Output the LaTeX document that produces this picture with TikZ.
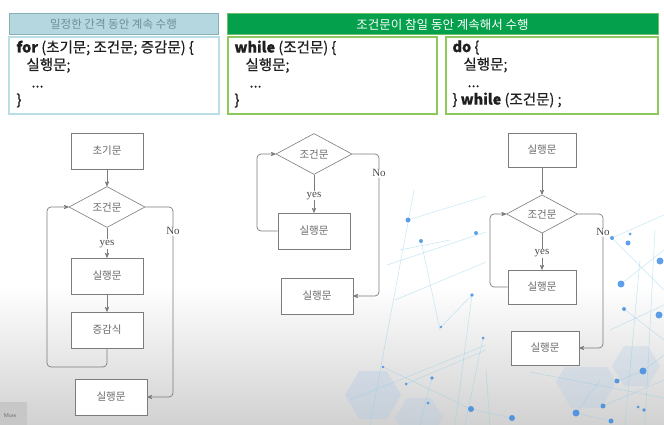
\documentclass[tikz,border=0pt]{standalone}
\usepackage{fontspec}
\setmainfont{Liberation Serif}
\newfontfamily\kr{Noto Sans CJK KR}
\newfontfamily\krcode[FakeBold=0.35]{Noto Sans CJK KR}
\usepackage{tikz}
\usetikzlibrary{shapes,arrows,positioning}

\definecolor{hdrblue}{HTML}{B5D8E0}
\definecolor{hdrblueline}{HTML}{88AEB8}
\definecolor{hdrbluetext}{HTML}{6D8E97}
\definecolor{codeblue}{HTML}{B9DEE8}
\definecolor{hdrgreen}{HTML}{04A04C}
\definecolor{hdrgreenline}{HTML}{6EC06E}
\definecolor{codegreen}{HTML}{8DC85C}
\definecolor{flowline}{HTML}{7C7C7C}
\definecolor{flowtext}{HTML}{6A6A6A}
\definecolor{netblue}{HTML}{8FCDEB}
\definecolor{dotblue}{HTML}{2A80E0}
\definecolor{hexblue}{HTML}{A9C6E6}

\begin{document}
\begin{tikzpicture}[x=1pt,y=-1pt,>=stealth',semithick]
\tikzstyle{header}=[inner sep=0pt,minimum height=21pt,line width=1pt,font=\kr\fontsize{11.5}{13}\selectfont]
\tikzstyle{codebox}=[draw,line width=1.6pt,minimum height=77pt,fill=white]
\tikzstyle{code}=[inner sep=0pt,align=left,anchor=north west,text=black!88,font=\krcode\fontsize{14.5}{17.5}\selectfont]
\tikzstyle{box}=[draw=flowline,fill=white,minimum width=72pt,minimum height=36pt,text=flowtext,font=\kr\fontsize{10.5}{12}\selectfont]
\tikzstyle{smallbox}=[box,minimum width=68pt,minimum height=34pt]
\tikzstyle{cond}=[diamond,draw=flowline,fill=white,inner sep=0pt,minimum width=76pt,minimum height=41pt,text=flowtext,font=\kr\fontsize{10.5}{12}\selectfont]
\tikzstyle{flow}=[->,draw=flowline,line width=0.7pt]
\tikzstyle{lbl}=[fill=white,inner sep=1pt,text=flowtext!70!black,font=\fontsize{11}{12}\selectfont]

\useasboundingbox (0,0) rectangle (664,425);

% background
\shade[top color=white,bottom color=black!18] (0,285) rectangle (664,425);
\fill[hexblue,opacity=0.3] (345,395)--(359,371)--(387,371)--(401,395)--(387,419)--(359,419)--cycle;
\fill[hexblue,opacity=0.25] (395,418)--(407,398)--(431,398)--(443,418)--(431,438)--(407,438)--cycle;
\fill[hexblue,opacity=0.25] (556,382)--(571,356)--(601,356)--(616,382)--(601,408)--(571,408)--cycle;
\fill[hexblue,opacity=0.25] (612,366)--(624,346)--(648,346)--(660,366)--(648,386)--(624,386)--cycle;
\foreach \xa/\ya/\xb/\yb in {370/425/414/190, 387/265/486/232, 408/220/486/196, 421/241/440/330,
    395/300/486/262, 383/367/471/409, 471/409/512/418, 406/384/486/350, 432/378/420/425,
    441/327/472/295, 483/338/465/425, 472/295/455/425, 350/400/486/345, 400/250/450/240,
    612/238/664/215, 612/238/664/290, 621/284/664/250, 624/309/664/340, 610/330/664/305,
    617/381/643/371, 643/371/664/355, 576/413/611/421, 603/406/664/380, 640/260/625/425,
    655/230/645/425, 600/380/576/413, 530/372/664/398, 490/425/486/370}
  \draw[netblue,line width=0.5pt,opacity=0.5] (\xa,\ya) -- (\xb,\yb);
\foreach \x/\y/\r in {408/220/2.5, 421/241/2, 476/233/2, 472/295/1.8, 441/327/1.3, 483/338/1.5,
    383/367/1.3, 406/384/1.5, 432/378/1.8, 428/403/1.5, 471/409/3, 512/418/3,
    612/238/2, 630/234/1.5, 628/243/2.5, 660/261/3.5, 621/284/3.5, 624/309/2, 659/315/3.5,
    643/371/3.5, 617/381/2.5, 576/413/3.5, 603/406/2.5, 638/407/1.5, 644/410/1.8, 611/421/2.5}
  \fill[dotblue,opacity=0.75] (\x,\y) circle (\r);
\fill[white] (486,126) rectangle (610,285.5);
\shade[top color=white,bottom color=black!10.4] (486,285) rectangle (610,366);
\fill[black!22] (0,402) rectangle (27,425);
\node[text=black!60,inner sep=0pt,font=\sffamily\fontsize{5.5}{6}\selectfont] (more) at (10,416) {More};

% headers and code
\node[header,draw=hdrblueline,fill=hdrblue,text=hdrbluetext,minimum width=209pt] (H1) at (113.5,24.5) {일정한 간격 동안 계속 수행};
\node[header,draw=hdrgreenline,fill=hdrgreen,text=white,minimum width=431pt,font=\kr\fontsize{12.5}{14}\selectfont] (H2) at (442.5,24.5) {조건문이 참일 동안 계속해서 수행};

\node[codebox,draw=codeblue,minimum width=210pt] (B1) at (114,75.5) {};
\node[codebox,draw=codegreen,minimum width=209pt] (B2) at (332.5,75.5) {};
\node[codebox,draw=codegreen,minimum width=212pt] (B3) at (552,75.5) {};

\node[code] (T1) at ([xshift=8pt,yshift=-4pt]B1.north west)
  {\textbf{for} (초기문; 조건문; 증감문) \{\\\hspace{10pt}실행문;\\\hspace{15pt}...\\\}};
\node[code] (T2) at ([xshift=7pt,yshift=-4pt]B2.north west)
  {\textbf{while} (조건문) \{\\\hspace{11pt}실행문;\\\hspace{15pt}...\\\}};
\node[code] (T3) at ([xshift=7pt,yshift=-4pt]B3.north west)
  {\textbf{do} \{\\\hspace{11pt}실행문;\\\hspace{15pt}...\\\} \textbf{while} (조건문) ;};

% for
\node[box]  (A1) at (107,151) {초기문};
\node[cond] (C1) [below of=A1,node distance=56pt] {조건문};
\node[box]  (S1) [below of=C1,node distance=69pt] {실행문};
\node[box]  (I1) [below of=S1,node distance=54pt] {증감식};
\node[box]  (E1) at (111,397) {실행문};
\coordinate (L1) at (47,367);
\coordinate (R1) at (173,397);

\draw[flow] (A1) -- (C1);
\draw[flow] (C1) -- node[lbl,pos=0.55] (y1) {yes} (S1);
\draw[flow] (S1) -- (I1);
\draw[flow,rounded corners=4pt] (I1.south) |- (L1) |- (C1.west);
\draw[flow,rounded corners=4pt] (C1.east) -| node[lbl,pos=0.563] (n1) {No} (R1) -- (E1.east);

% while
\node[cond] (C2) at (314,154) {조건문};
\node[box]  (S2) [below of=C2,node distance=77pt] {실행문};
\node[box]  (E2) at (317,296) {실행문};
\coordinate (L2) at (257,154);
\coordinate (R2) at (379,296);

\draw[flow] (C2) -- node[lbl,pos=0.55] (y2) {yes} (S2);
\draw[flow,rounded corners=4pt] (S2.west) -| (L2) -- (C2.west);
\draw[flow,rounded corners=4pt] (C2.east) -| node[lbl,pos=0.567] (n2) {No} (R2) -- (E2.east);

% do-while
\node[smallbox] (A3) at (542,150) {실행문};
\node[cond,minimum width=71pt,minimum height=37pt] (C3) [below of=A3,node distance=64pt] {조건문};
\node[smallbox] (S3) [below of=C3,node distance=73pt] {실행문};
\node[smallbox] (E3) at (545,348) {실행문};
\coordinate (L3) at (490,214);
\coordinate (R3) at (603,348);

\draw[flow] (A3) -- (C3);
\draw[flow] (C3) -- node[lbl,pos=0.55] (y3) {yes} (S3);
\draw[flow,rounded corners=4pt] (S3.west) -| (L3) -- (C3.west);
\draw[flow,rounded corners=4pt] (C3.east) -| node[lbl,pos=0.567] (n3) {No} (R3) -- (E3.east);
\end{tikzpicture}
\end{document}
